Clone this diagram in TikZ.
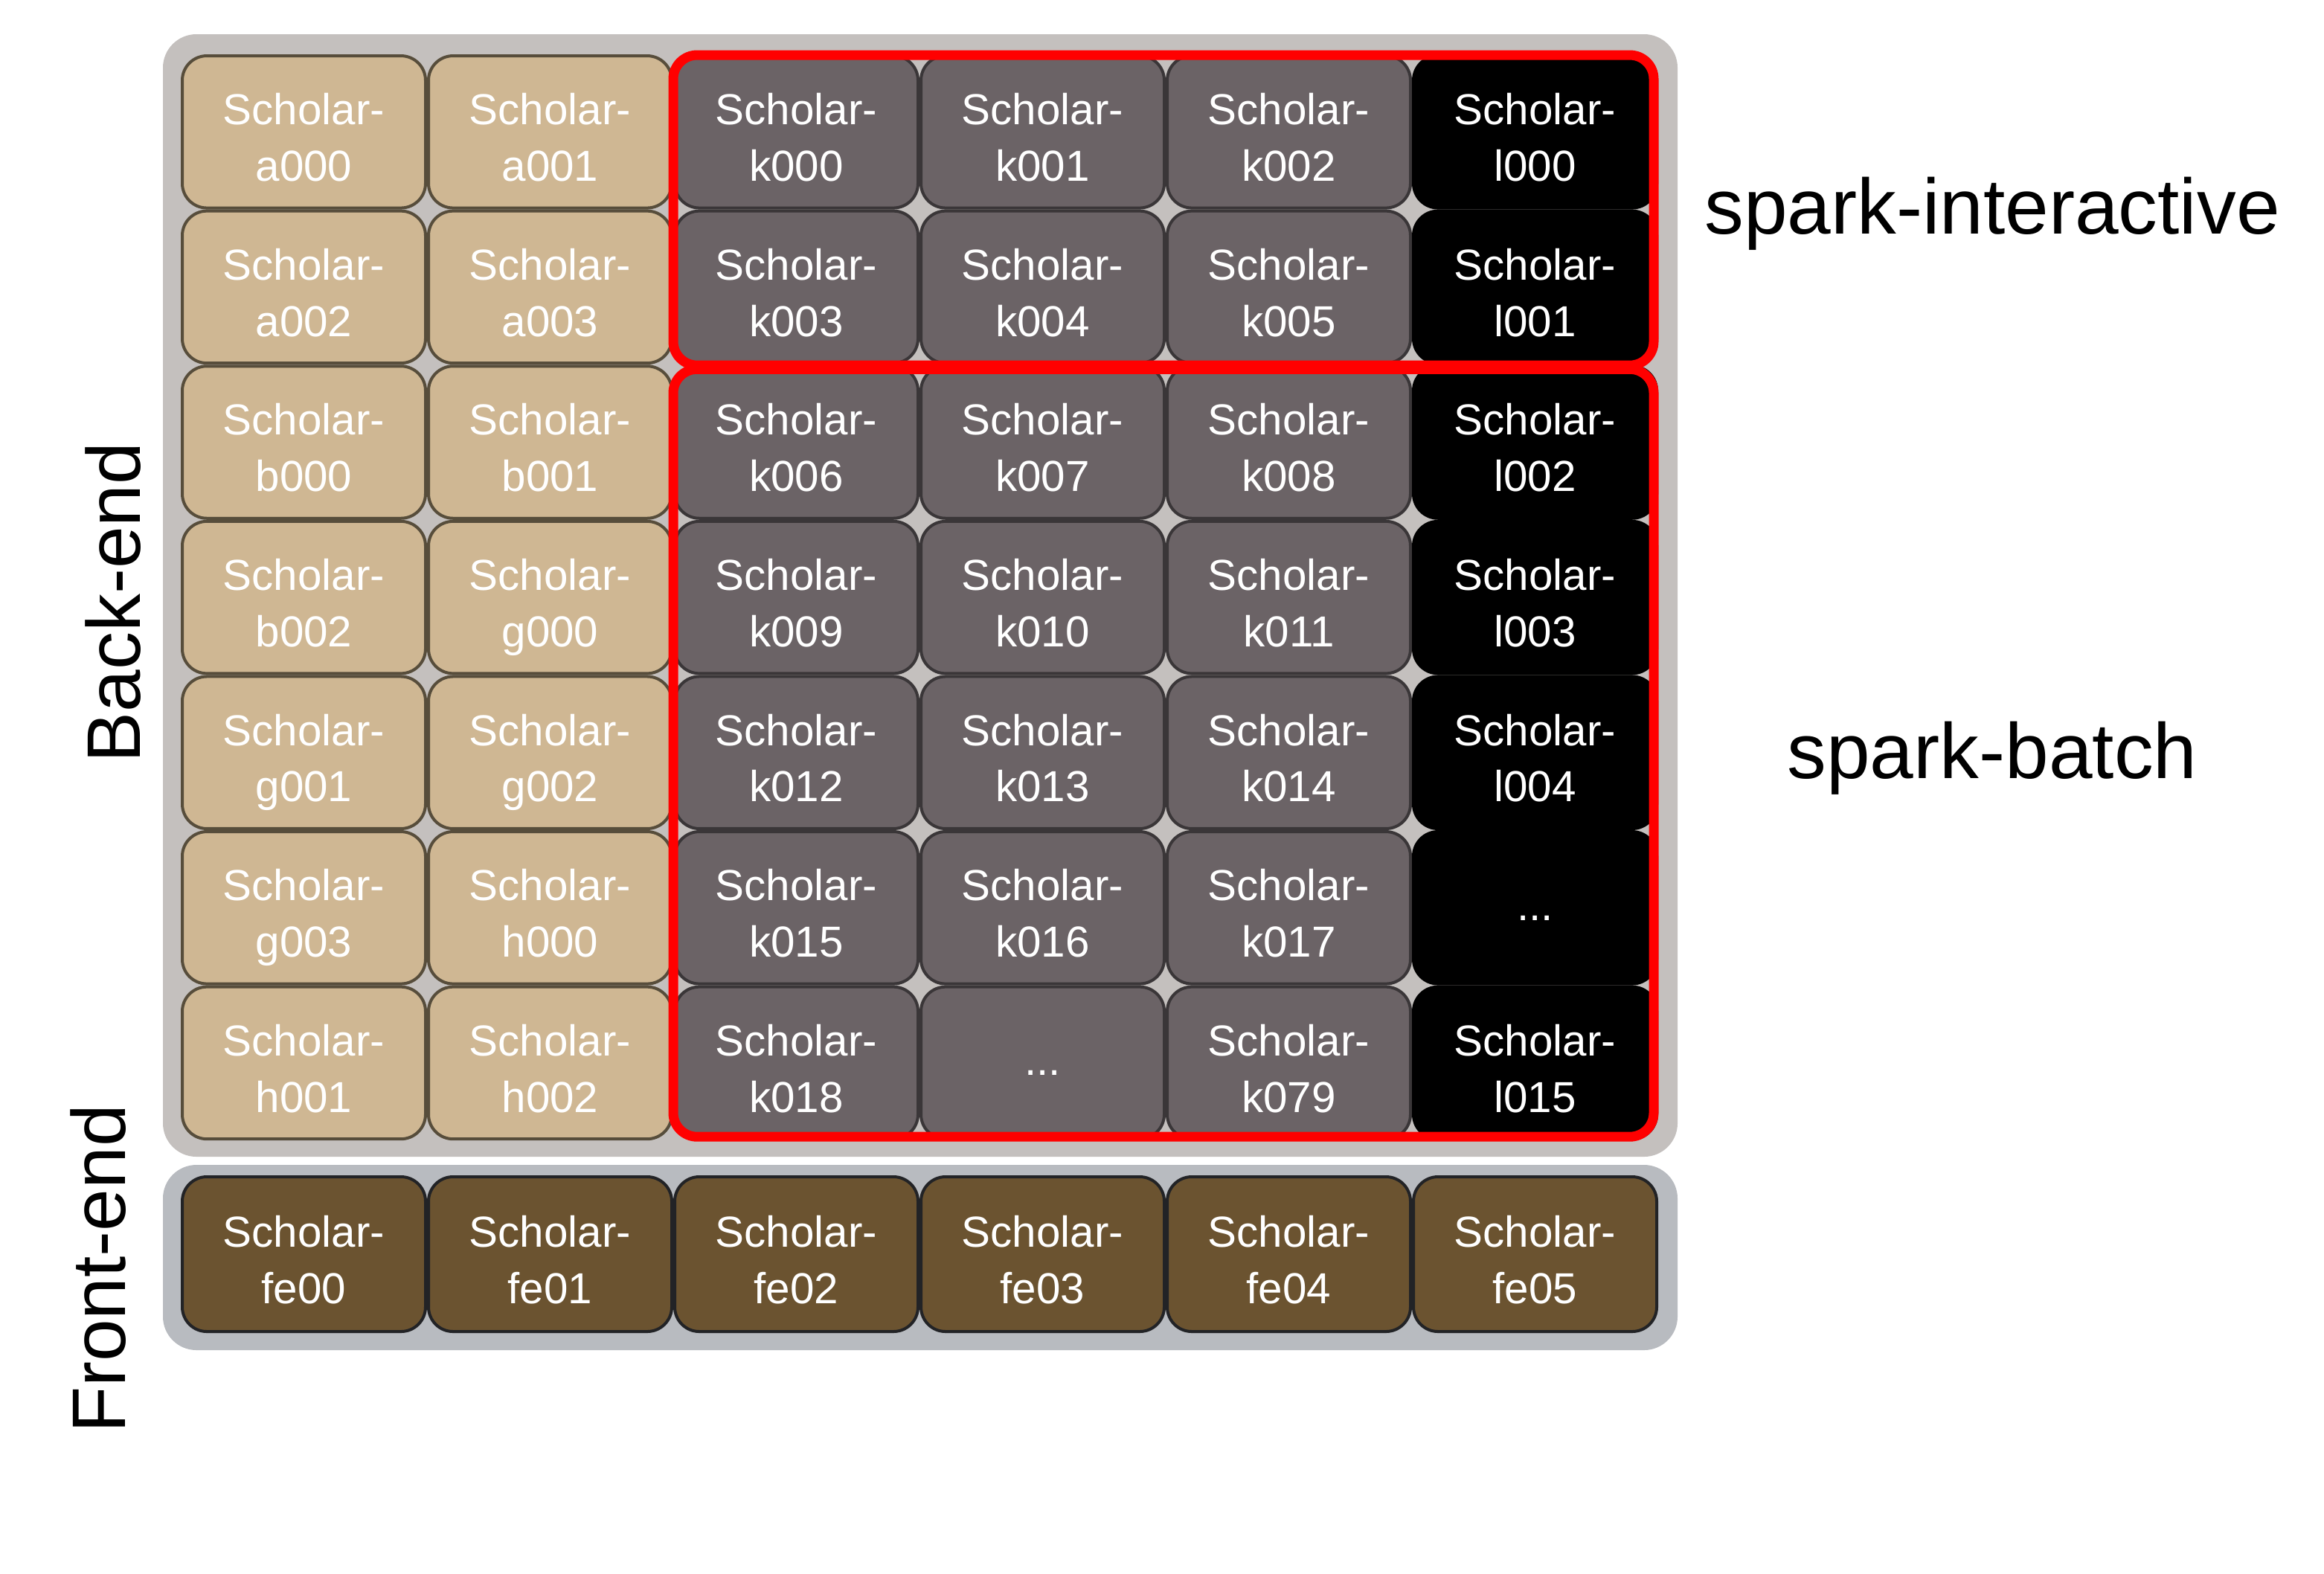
\documentclass[tikz,border=0pt]{standalone}
\usepackage{fontspec}
\setmainfont{Liberation Sans}
\usepackage{tikz}
\definecolor{tanfill}{RGB}{207,183,147}
\definecolor{tanedge}{RGB}{87,77,59}
\definecolor{kfill}{RGB}{107,99,102}
\definecolor{kedge}{RGB}{58,54,56}
\definecolor{fefill}{RGB}{107,83,48}
\definecolor{feedge}{RGB}{34,35,38}
\definecolor{backpanel}{RGB}{196,192,190}
\definecolor{frontpanel}{RGB}{184,187,192}

\tikzset{
  hostbox/.style={rounded corners=0.33cm, line width=0.04cm, minimum width=3.27cm,
    minimum height=2.045cm, inner sep=0pt, align=center, text=white,
    text height=37.7pt, text depth=0pt,
    font=\fontsize{16.6}{21.6}\selectfont},
  dotsbox/.style={text height=9.6pt},
  febox/.style={hostbox, fill=fefill, draw=feedge, minimum height=2.08cm},
  poolframe/.style={draw=red, line width=0.13cm, rounded corners=0.32cm},
  sidelabel/.style={font=\fontsize{29}{34}\selectfont, rotate=90, anchor=base},
  poollabel/.style={font=\fontsize{30}{36}\selectfont, anchor=base},
}

\begin{document}
\begin{tikzpicture}
  \useasboundingbox (0,0) rectangle (31.24,-21.15);
  % panels
  \fill[backpanel, rounded corners=0.45cm] (2.19,-0.46) rectangle (22.55,-15.55);
  \fill[frontpanel, rounded corners=0.45cm] (2.19,-15.66) rectangle (22.55,-18.15);
  % back-end hosts, six per row
  \def\skipname{dots}
  \foreach \lbl [count=\n from 0] in {a000,a001,k000,k001,k002,l000,
      a002,a003,k003,k004,k005,l001, b000,b001,k006,k007,k008,l002,
      b002,g000,k009,k010,k011,l003, g001,g002,k012,k013,k014,l004,
      g003,h000,k015,k016,k017,dots, h001,h002,k018,dots,k079,l015} {
    \pgfmathtruncatemacro{\row}{floor(\n/6)}
    \pgfmathtruncatemacro{\col}{\n-6*\row}
    \ifnum\col<2 \def\fillc{tanfill}\def\edgec{tanedge}%
    \else\ifnum\col<5 \def\fillc{kfill}\def\edgec{kedge}%
    \else \def\fillc{black}\def\edgec{black}\fi\fi
    \edef\tmp{\lbl}
    \ifx\tmp\skipname
      \node[hostbox, dotsbox, fill=\fillc, draw=\edgec] (c-\row-\col) at ({4.085+3.31*\col},{-1.773-2.086*\row}) {...};
    \else
      \node[hostbox, fill=\fillc, draw=\edgec] (c-\row-\col) at ({4.085+3.31*\col},{-1.773-2.086*\row}) {Scholar-\\\lbl};
    \fi
  }
  % front-end hosts
  \foreach \lbl [count=\col from 0] in {fe00,fe01,fe02,fe03,fe04,fe05}
    \node[febox] (fe-\col) at ({4.085+3.31*\col},-16.86) {Scholar-\\\lbl};
  % spark pools
  \draw[poolframe] ([yshift=-0.01cm]c-0-2.north west) rectangle ([xshift=-0.06cm,yshift=-0.01cm]c-1-5.south east);
  \draw[poolframe] ([yshift=-0.06cm]c-2-2.north west) rectangle ([xshift=-0.06cm,yshift=0.05cm]c-6-5.south east);
  \node[poollabel] (interactive) at (26.78,-3.14) {spark-interactive};
  \node[poollabel] (batch) at (26.78,-10.46) {spark-batch};
  \node[sidelabel] (backend) at (1.88,-8.10) {Back-end};
  \node[sidelabel] (frontend) at (1.68,-17.06) {Front-end};
\end{tikzpicture}
\end{document}
